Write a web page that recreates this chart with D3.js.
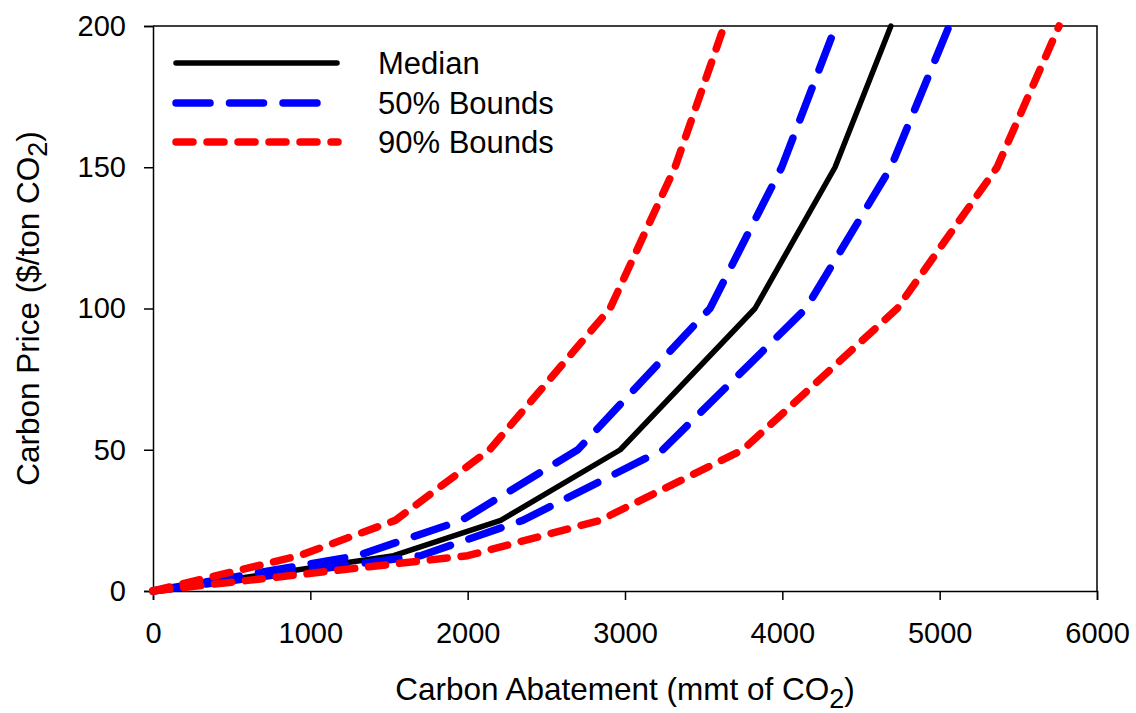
<!DOCTYPE html>
<html>
<head>
<meta charset="utf-8">
<script src="https://cdn.jsdelivr.net/npm/d3@7"></script>
<style>
  html, body { margin: 0; padding: 0; background: #fff; }
  svg { display: block; }
  text { font-family: "Liberation Sans", Arial, sans-serif; fill: #000; }
</style>
</head>
<body>
<svg id="chart" width="1136" height="713"></svg>
<script>
// Price levels (y, $/ton CO2) shared by every series
const priceLevels = [0, 12.5, 25, 50, 100, 150, 200];
// Abatement (x, mmt CO2) at each price level
const medianAbatement  = [0, 1530, 2210, 2970, 3826, 4335, 4690];
const b50LowAbatement  = [0, 1300, 1960, 2700, 3540, 3996, 4340];
const b50HighAbatement = [0, 1700, 2350, 3240, 4150, 4690, 5060];
const b90LowAbatement  = [0,  930, 1540, 2140, 2905, 3318, 3630];
const b90HighAbatement = [0, 2000, 2840, 3750, 4730, 5365, 5759];

const xTicks = [0, 1000, 2000, 3000, 4000, 5000, 6000];
const yTicks = [0, 50, 100, 150, 200];
const legendLabels = ["Median", "50% Bounds", "90% Bounds"];

const svg = d3.select("#chart");
const m = { left: 153, right: 1097, top: 26, bottom: 591 };

const x = d3.scaleLinear().domain([0, 6000]).range([m.left, m.right]);
const y = d3.scaleLinear().domain([0, 200]).range([m.bottom, m.top]);

const styles = {
  median: { color: "#000", width: 5.5, dash: null, legendEnd: 337 },
  b50: { color: "#0000ff", width: 7.5, dash: "34,19.5", legendEnd: 318 },
  b90: { color: "#ff0000", width: 7.5, dash: "17,14", legendEnd: 338 }
};

// frame (top & right)
svg.append("path")
  .attr("d", `M${m.left},${m.top}H${m.right}V${m.bottom}`)
  .attr("fill", "none").attr("stroke", "#000").attr("stroke-width", 1.5);

// axes
const xAxis = svg.append("g").attr("transform", `translate(0,${m.bottom})`)
  .call(d3.axisBottom(x).tickValues(xTicks).tickFormat(d3.format("d")).tickSizeOuter(0).tickSize(9).tickPadding(22));
const yAxis = svg.append("g").attr("transform", `translate(${m.left},0)`)
  .call(d3.axisLeft(y).tickValues(yTicks).tickFormat(d3.format("d")).tickSizeOuter(0).tickSize(9).tickPadding(18));
[xAxis, yAxis].forEach(g => {
  g.select(".domain").attr("stroke", "#000").attr("stroke-width", 1.5);
  g.selectAll(".tick line").attr("stroke", "#000").attr("stroke-width", 1.5);
  g.selectAll(".tick text").attr("font-size", 29).attr("font-family", "Liberation Sans, Arial, sans-serif").attr("fill", "#000");
});

// series
const line = d3.line().x(d => x(d[0])).y(d => y(d[1]));
const series = [
  { xs: medianAbatement, s: styles.median },
  { xs: b50LowAbatement, s: styles.b50 },
  { xs: b50HighAbatement, s: styles.b50 },
  { xs: b90LowAbatement, s: styles.b90 },
  { xs: b90HighAbatement, s: styles.b90 }
];
series.forEach(sr => {
  const pts = sr.xs.map((v, i) => [v, priceLevels[i]]);
  svg.append("path")
    .attr("d", line(pts))
    .attr("fill", "none")
    .attr("stroke", sr.s.color)
    .attr("stroke-width", sr.s.width)
    .attr("stroke-linecap", "round")
    .attr("stroke-linejoin", "round")
    .attr("stroke-dasharray", sr.s.dash);
});

// legend
const legendStyles = [styles.median, styles.b50, styles.b90];
const legendY = [63, 103, 142];
legendLabels.forEach((lab, i) => {
  const st = legendStyles[i];
  svg.append("line")
    .attr("x1", 176).attr("x2", st.legendEnd)
    .attr("y1", legendY[i]).attr("y2", legendY[i])
    .attr("stroke", st.color).attr("stroke-width", st.width)
    .attr("stroke-linecap", "round")
    .attr("stroke-dasharray", st.dash);
  svg.append("text")
    .attr("x", 378).attr("y", legendY[i]).attr("dy", "0.36em")
    .attr("font-size", 31).text(lab);
});

// x title
const xt = svg.append("text")
  .attr("x", (m.left + m.right) / 2).attr("y", 700)
  .attr("text-anchor", "middle").attr("font-size", 31.5);
xt.append("tspan").text("Carbon Abatement (mmt of CO");
xt.append("tspan").attr("dy", 8).attr("font-size", 27).text("2");
xt.append("tspan").attr("dy", -8).text(")");

// y title
const yt = svg.append("text")
  .attr("transform", `translate(39,${(m.top + m.bottom) / 2}) rotate(-90)`)
  .attr("text-anchor", "middle").attr("font-size", 31.5);
yt.append("tspan").text("Carbon Price ($/ton CO");
yt.append("tspan").attr("dy", 8).attr("font-size", 27).text("2");
yt.append("tspan").attr("dy", -8).text(")");
</script>
</body>
</html>
